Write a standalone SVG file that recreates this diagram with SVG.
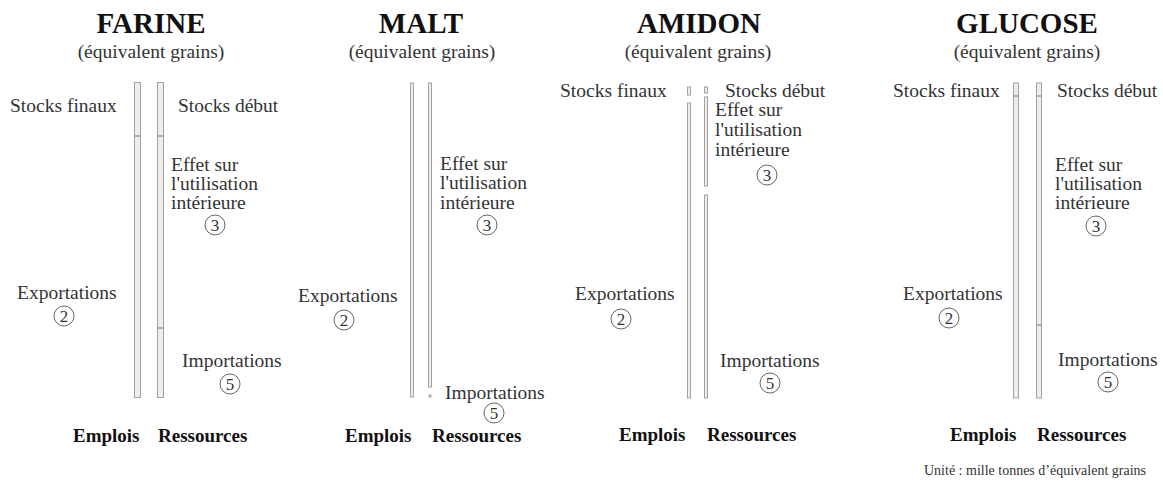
<svg xmlns="http://www.w3.org/2000/svg" width="1163" height="493" viewBox="0 0 1163 493">
<style>
.t{font-family:"Liberation Serif","Times New Roman",serif;font-weight:bold;font-size:29px;fill:#111;text-anchor:middle}
.s{font-family:"Liberation Serif","Times New Roman",serif;font-size:19.5px;fill:#333;text-anchor:middle}
.l{font-family:"Liberation Serif","Times New Roman",serif;font-size:19.5px;fill:#333}
.b{font-family:"Liberation Serif","Times New Roman",serif;font-weight:bold;font-size:19px;fill:#111}
.n{font-family:"Liberation Serif","Times New Roman",serif;font-size:17px;fill:#333;text-anchor:middle}
.c{fill:none;stroke:#555;stroke-width:0.9}
.bar{fill:#f1ecec;stroke:#a89f9f;stroke-width:1}
.div{stroke:#8f8888;stroke-width:1.2}
.u{font-family:"Liberation Serif","Times New Roman",serif;font-size:14px;fill:#333}
</style>

<g id="farine">
<text class="t" x="151" y="33">FARINE</text>
<text class="s" x="151" y="58">(équivalent grains)</text>
<rect class="bar" x="134.5" y="82.5" width="6" height="315"/>
<rect class="bar" x="157.5" y="82.5" width="6" height="315"/>
<line class="div" x1="134.5" y1="136" x2="140.5" y2="136"/>
<line class="div" x1="157.5" y1="136" x2="163.5" y2="136"/>
<line class="div" x1="157.5" y1="328" x2="163.5" y2="328"/>
<text class="l" x="10" y="112">Stocks finaux</text>
<text class="l" x="178" y="112">Stocks début</text>
<text class="l" x="171" y="171">Effet sur</text>
<text class="l" x="171" y="190">l'utilisation</text>
<text class="l" x="171" y="209">intérieure</text>
<circle class="c" cx="215" cy="225" r="10"/><text class="n" x="215" y="231">3</text>
<text class="l" x="17" y="299">Exportations</text>
<circle class="c" cx="64" cy="316" r="10"/><text class="n" x="64" y="322">2</text>
<text class="l" x="182" y="367">Importations</text>
<circle class="c" cx="230" cy="384" r="10"/><text class="n" x="230" y="390">5</text>
<text class="b" x="73" y="442">Emplois</text>
<text class="b" x="158" y="442">Ressources</text>
</g>

<g id="malt">
<text class="t" x="421" y="33">MALT</text>
<text class="s" x="422" y="58">(équivalent grains)</text>
<rect class="bar" x="410.5" y="83" width="3" height="314"/>
<rect class="bar" x="428.5" y="83" width="3" height="304"/>
<rect class="bar" x="429" y="395" width="2" height="2"/>
<text class="l" x="440" y="170">Effet sur</text>
<text class="l" x="440" y="189">l'utilisation</text>
<text class="l" x="440" y="209">intérieure</text>
<circle class="c" cx="487" cy="225" r="10"/><text class="n" x="487" y="231">3</text>
<text class="l" x="298" y="302">Exportations</text>
<circle class="c" cx="344" cy="320" r="10"/><text class="n" x="344" y="326">2</text>
<text class="l" x="445" y="399">Importations</text>
<circle class="c" cx="494" cy="413" r="10"/><text class="n" x="494" y="419">5</text>
<text class="b" x="345" y="442">Emplois</text>
<text class="b" x="432" y="442">Ressources</text>
</g>

<g id="amidon">
<text class="t" x="699" y="33">AMIDON</text>
<text class="s" x="698" y="58">(équivalent grains)</text>
<rect class="bar" x="687.5" y="87" width="3" height="8"/>
<rect class="bar" x="687.5" y="103" width="3" height="295"/>
<rect class="bar" x="704.5" y="87" width="3" height="6"/>
<rect class="bar" x="704.5" y="97" width="3" height="89"/>
<rect class="bar" x="704.5" y="195" width="3" height="203"/>
<text class="l" x="560" y="97">Stocks finaux</text>
<text class="l" x="725" y="97">Stocks début</text>
<text class="l" x="715" y="116">Effet sur</text>
<text class="l" x="715" y="136">l'utilisation</text>
<text class="l" x="715" y="156">intérieure</text>
<circle class="c" cx="767" cy="175" r="10"/><text class="n" x="767" y="181">3</text>
<text class="l" x="575" y="300">Exportations</text>
<circle class="c" cx="621" cy="319" r="10"/><text class="n" x="621" y="325">2</text>
<text class="l" x="720" y="367">Importations</text>
<circle class="c" cx="770" cy="383" r="10"/><text class="n" x="770" y="389">5</text>
<text class="b" x="619" y="441">Emplois</text>
<text class="b" x="707" y="441">Ressources</text>
</g>

<g id="glucose">
<text class="t" x="1027" y="33">GLUCOSE</text>
<text class="s" x="1027" y="58">(équivalent grains)</text>
<rect class="bar" x="1013.5" y="83" width="5" height="315"/>
<rect class="bar" x="1036.5" y="83" width="5" height="315"/>
<line class="div" x1="1013.5" y1="96" x2="1018.5" y2="96"/>
<line class="div" x1="1036.5" y1="96" x2="1041.5" y2="96"/>
<line class="div" x1="1036.5" y1="325" x2="1041.5" y2="325"/>
<text class="l" x="893" y="97">Stocks finaux</text>
<text class="l" x="1057" y="97">Stocks début</text>
<text class="l" x="1055" y="171">Effet sur</text>
<text class="l" x="1055" y="190">l'utilisation</text>
<text class="l" x="1055" y="209">intérieure</text>
<circle class="c" cx="1096" cy="226" r="10"/><text class="n" x="1096" y="232">3</text>
<text class="l" x="903" y="300">Exportations</text>
<circle class="c" cx="949" cy="318" r="10"/><text class="n" x="949" y="324">2</text>
<text class="l" x="1058" y="366">Importations</text>
<circle class="c" cx="1108" cy="382" r="10"/><text class="n" x="1108" y="388">5</text>
<text class="b" x="950" y="441">Emplois</text>
<text class="b" x="1037" y="441">Ressources</text>
</g>

<g id="connectors"></g>

<text class="u" x="924" y="475">Unité : mille tonnes d’équivalent grains</text>
</svg>
